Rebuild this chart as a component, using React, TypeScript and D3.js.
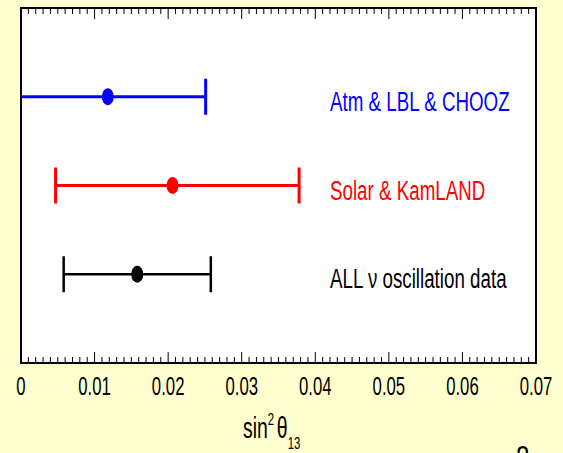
import { useEffect, useMemo } from "react";
import * as d3 from "d3";

const series = ["Atm & LBL & CHOOZ", "Solar & KamLAND", "ALL ν oscillation data"];
const colors = ["#0000ff", "#ff0000", "#000000"];
const bestFit = [0.0118, 0.0206, 0.0158];
const lower = [0.0, 0.0047, 0.0058];
const upper = [0.0251, 0.0378, 0.0258];
const xTicks = [0, 0.01, 0.02, 0.03, 0.04, 0.05, 0.06, 0.07];
const labelX = 0.042;

const width = 563;
const height = 453;
const margin = { top: 8, right: 27, bottom: 90, left: 21 };
const FONT = "'Liberation Sans', Arial, Helvetica, sans-serif";
const SX = 0.67;

export default function App() {
  useEffect(() => {
    document.body.style.margin = "0";
  }, []);

  const x0 = margin.left;
  const x1 = width - margin.right;
  const y0 = margin.top;
  const y1 = height - margin.bottom;

  const xScale = useMemo(
    () => d3.scaleLinear().domain([0, 0.07]).range([x0, x1]),
    [x0, x1],
  );
  const yScale = useMemo(
    () => d3.scalePoint().domain(series).range([y0, y1]).padding(1),
    [y0, y1],
  );
  const minor = d3.range(0, 70.5, 1).map((d) => d / 1000);

  return (
    <svg
      width={width}
      height={height}
      viewBox={`0 0 ${width} ${height}`}
      style={{ display: "block", background: "#ffffd0" }}
    >
      <rect x={0} y={0} width={width} height={height} fill="#ffffd0" />
      <rect x={x0} y={y0} width={x1 - x0} height={y1 - y0} fill="#ffffff" />

      {/* Ticks top & bottom */}
      {minor.map((t, i) => {
        const major = i % 10 === 0;
        const len = major ? 11 : 6;
        const x = xScale(t);
        return (
          <g key={i} stroke="#000" strokeWidth={1}>
            <line x1={x} x2={x} y1={y1} y2={y1 - len} />
            <line x1={x} x2={x} y1={y0} y2={y0 + len} />
          </g>
        );
      })}

      {/* Error bars */}
      {series.map((name, i) => {
        const y = yScale(name) ?? 0;
        const c = colors[i];
        const sw = i === 2 ? 2.5 : 3;
        return (
          <g key={name}>
            <line
              x1={xScale(lower[i])}
              x2={xScale(upper[i])}
              y1={y}
              y2={y}
              stroke={c}
              strokeWidth={sw}
            />
            {lower[i] > 0 && (
              <line
                x1={xScale(lower[i])}
                x2={xScale(lower[i])}
                y1={y - 18}
                y2={y + 18}
                stroke={c}
                strokeWidth={sw}
              />
            )}
            <line
              x1={xScale(upper[i])}
              x2={xScale(upper[i])}
              y1={y - 18}
              y2={y + 18}
              stroke={c}
              strokeWidth={sw}
            />
            <ellipse cx={xScale(bestFit[i])} cy={y} rx={6} ry={8.5} fill={c} />
            <text
              transform={`translate(${xScale(labelX)},${y + 14}) scale(${SX},1)`}
              fill={c}
              style={{ fontFamily: FONT, fontSize: "28px" }}
            >
              {name}
            </text>
          </g>
        );
      })}

      {/* Frame */}
      <rect
        x={x0}
        y={y0}
        width={x1 - x0}
        height={y1 - y0}
        fill="none"
        stroke="#000"
        strokeWidth={2}
      />

      {/* Tick labels */}
      {xTicks.map((t) => (
        <text
          key={t}
          transform={`translate(${xScale(t)},${y1 + 32}) scale(${SX},1)`}
          textAnchor="middle"
          style={{ fontFamily: FONT, fontSize: "25px" }}
        >
          {t === 0 ? "0" : t.toFixed(2)}
        </text>
      ))}

      {/* Axis title */}
      <g transform={`translate(243,438) scale(${SX},1)`} style={{ fontFamily: FONT }}>
        <text style={{ fontSize: "29px" }}>
          sin
          <tspan dy={-13} style={{ fontSize: "17px" }}>2</tspan>
          <tspan dy={13} dx={4}>θ</tspan>
          <tspan dy={11} style={{ fontSize: "17px" }}>13</tspan>
        </text>
      </g>

      <text
        transform={`translate(516,470) scale(${SX},1)`}
        style={{ fontFamily: FONT, fontSize: "36px" }}
      >
        8
      </text>
    </svg>
  );
}
